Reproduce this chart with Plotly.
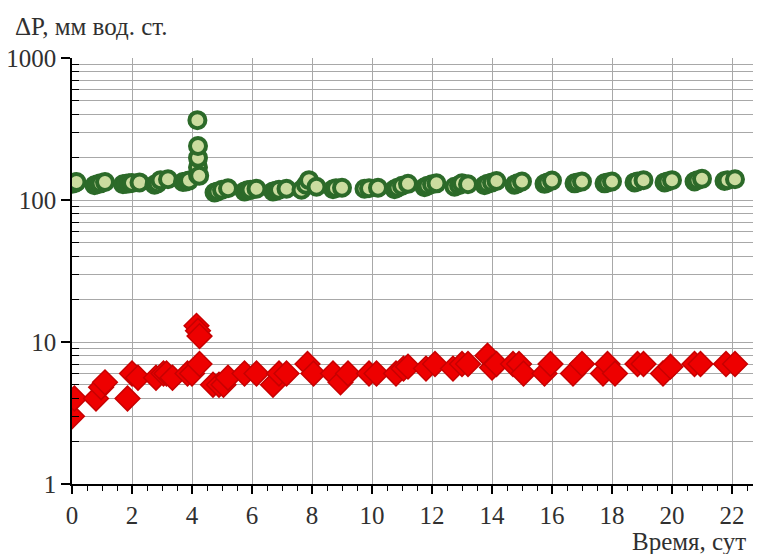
import plotly.graph_objects as go

# Pressure drop ΔP over time, two measurement series (log scale)
days_green = [0.0, 0.1, 0.15,
              0.75, 0.85, 0.95, 1.1,
              1.7, 1.8, 1.9, 2.0, 2.25,
              2.75, 2.85, 2.95, 3.2,
              3.7, 3.8, 3.9, 4.2, 4.2, 4.2, 4.2, 4.18, 4.24,
              4.75, 4.85, 5.0, 5.2,
              5.75, 5.85, 5.95, 6.15,
              6.7, 6.8, 6.9, 7.15,
              7.65, 7.8, 7.9, 8.15,
              8.7, 8.8, 9.0,
              9.75, 9.9, 10.2,
              10.75, 10.85, 11.0, 11.2,
              11.75, 11.85, 12.0, 12.15,
              12.75, 12.9, 13.0, 13.2,
              13.75, 13.85, 14.0, 14.15,
              14.75, 14.85, 15.0,
              15.75, 15.85, 16.0,
              16.75, 16.85, 17.0,
              17.75, 17.85, 18.0,
              18.75, 18.85, 19.05,
              19.75, 19.85, 20.0,
              20.75, 20.85, 21.0,
              21.75, 21.85, 22.1]
dp_green = [130, 132, 134,
            127, 129, 131, 134,
            129, 130, 131, 132, 133,
            128, 131, 138, 140,
            134, 135, 137, 150, 170, 198, 240, 365, 148,
            113, 115, 118, 121,
            115, 117, 118, 120,
            115, 116, 118, 120,
            118, 128, 138, 124,
            119, 121, 122,
            120, 121, 122,
            119, 122, 126, 130,
            123, 126, 129, 131,
            124, 127, 131, 129,
            127, 130, 133, 136,
            128, 131, 135,
            130, 133, 137,
            131, 133, 135,
            131, 133, 135,
            133, 135, 138,
            133, 135, 138,
            135, 138, 141,
            136, 138, 140]

days_red = [0.0, 0.08, 0.8, 0.97, 1.1,
            1.85, 2.0, 2.2,
            2.8, 3.05, 3.15, 3.35,
            3.85, 4.0, 4.25, 4.15, 4.2, 4.25,
            4.7, 4.9, 5.05, 5.2,
            5.75, 6.15,
            6.7, 6.9, 7.15,
            7.85, 8.05,
            8.7, 8.95, 9.2,
            9.9, 10.15,
            10.8, 11.05, 11.2,
            11.8, 12.1,
            12.7, 13.0, 13.2,
            13.85, 14.0, 14.15,
            14.7, 14.9, 15.05,
            15.75, 15.95,
            16.7, 17.0,
            17.7, 17.85, 18.1,
            18.85, 19.05,
            19.7, 19.95,
            20.75, 20.95,
            21.8, 22.1]
dp_red = [3, 4, 4, 4.8, 5.2,
          4, 6, 5.6,
          5.6, 6, 6, 5.6,
          6, 6, 7, 13, 12, 11,
          5, 5, 5, 5.6,
          6, 6,
          5, 6, 6,
          7, 6,
          6, 5.2, 6,
          6, 6,
          6, 6.5, 6.7,
          6.5, 7,
          6.5, 7, 7,
          8, 6.6, 7,
          7, 7, 6,
          6, 7,
          6, 7,
          6, 7, 6,
          7, 7,
          6, 6.7,
          7, 7,
          7, 7]

x_ticks = list(range(0, 23, 2))
y_ticks = [1, 10, 100, 1000]
y_minor = [m * 10 ** k for k in range(3) for m in range(2, 10)]

serif = "Liberation Serif"
text_font = dict(family=serif, size=25, color="#303030")
grid = "#a8a8a8"

fig = go.Figure()
fig.add_trace(go.Scatter(
    x=days_red, y=dp_red, mode="markers",
    marker=dict(symbol="diamond", size=19, color="#ee0000",
                line=dict(color="#c80000", width=1.5)),
    showlegend=False))
fig.add_trace(go.Scatter(
    x=days_green, y=dp_green, mode="markers",
    marker=dict(symbol="circle", size=16, color="#cbdc9f",
                line=dict(color="#2c6a29", width=4)),
    showlegend=False))

fig.update_layout(
    width=757, height=554,
    margin=dict(l=72, r=4, t=58, b=70),
    paper_bgcolor="white", plot_bgcolor="white",
    xaxis=dict(
        range=[0, 22.7], tickmode="array", tickvals=x_ticks,
        ticktext=[str(v) for v in x_ticks], tickfont=text_font,
        showgrid=True, gridcolor=grid, gridwidth=1,
        showline=True, linecolor="black", linewidth=1.5,
        ticks="outside", ticklen=8, tickcolor="black", tickwidth=1.5,
        ticklabelstandoff=0,
        minor=dict(dtick=0.5, ticks="outside", ticklen=5,
                   tickcolor="black", tickwidth=1, showgrid=False),
        zeroline=False,
    ),
    yaxis=dict(
        type="log", range=[0, 3], tickmode="array", tickvals=y_ticks,
        ticktext=[str(v) for v in y_ticks], tickfont=text_font,
        showgrid=True, gridcolor=grid, gridwidth=1,
        showline=True, linecolor="black", linewidth=1.5,
        ticks="outside", ticklen=9, tickcolor="black", tickwidth=1.5,
        ticklabelstandoff=0,
        minor=dict(tickmode="array", tickvals=y_minor, ticks="inside",
                   ticklen=7, tickcolor="black", tickwidth=1,
                   showgrid=True, gridcolor=grid, gridwidth=1),
        zeroline=False,
    ),
    annotations=[
        dict(text="ΔP, мм вод. ст.", xref="paper", yref="paper",
             x=0, y=1, xanchor="left", yanchor="bottom",
             xshift=-59, yshift=16, showarrow=False, font=text_font),
        dict(text="Время, сут", xref="paper", yref="paper",
             x=1, y=0, xanchor="right", yanchor="top",
             xshift=-5, yshift=-42, showarrow=False, font=text_font),
    ],
)

fig.write_html("out.html")
